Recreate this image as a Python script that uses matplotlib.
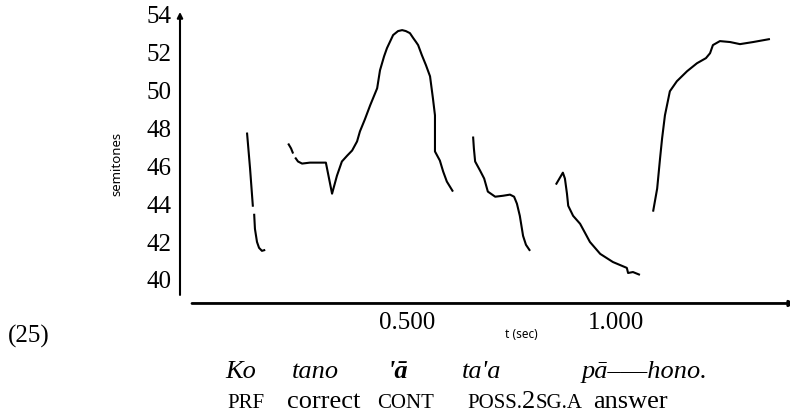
import matplotlib
matplotlib.use('Agg')
import matplotlib.pyplot as plt

SERIF = ['Liberation Serif', 'DejaVu Serif']
SANS = ['Noto Sans', 'DejaVu Sans']

# ---------------- data (time in s, pitch in semitones) ----------------
seg1a_t = [0.1172, 0.1245, 0.1313]
seg1a_st = [47.79, 45.89, 43.87]
seg1b_t = [0.1343, 0.1362, 0.1411, 0.1460, 0.1529, 0.1608]
seg1b_st = [43.50, 42.70, 42.01, 41.70, 41.54, 41.59]

seg2a_t = [0.2157, 0.2226, 0.2275]
seg2a_st = [47.21, 46.95, 46.68]
seg2b_t = [0.2324, 0.2392, 0.2490, 0.2677, 0.3059, 0.3207, 0.3324, 0.3442,
           0.3569, 0.3687, 0.3805, 0.3874, 0.3991, 0.4119, 0.4236, 0.4286,
           0.4354, 0.4452, 0.4521, 0.4668, 0.4786, 0.4884, 0.4972, 0.5070,
           0.5149, 0.5217, 0.5266, 0.5355, 0.5453, 0.5551, 0.5620, 0.5669,
           0.5669, 0.5669, 0.5786, 0.5865, 0.5953, 0.6100]
seg2b_st = [46.47, 46.26, 46.15, 46.20, 46.20, 44.56, 45.51, 46.26,
            46.57, 46.84, 47.32, 47.85, 48.48, 49.23, 49.86, 50.13,
            51.08, 51.82, 52.25, 52.94, 53.15, 53.20, 53.15, 53.04,
            52.78, 52.57, 52.41, 51.88, 51.35, 50.76, 49.60, 48.70,
            47.74, 46.79, 46.31, 45.73, 45.20, 44.67]

seg3_t = [0.6581, 0.6600, 0.6630, 0.6748, 0.6846, 0.6934, 0.7110, 0.7297,
          0.7464, 0.7562, 0.7630, 0.7699, 0.7777, 0.7846, 0.7944]
seg3_st = [47.58, 46.95, 46.26, 45.78, 45.36, 44.67, 44.40, 44.45,
           44.51, 44.40, 44.03, 43.39, 42.33, 41.86, 41.54]

seg4_t = [0.8562, 0.8729, 0.8778, 0.8827, 0.8857, 0.8974, 0.9141, 0.9259,
          0.9376, 0.9622, 0.9926, 1.0259, 1.0289, 1.0406, 1.0573]
seg4_st = [45.04, 45.67, 45.36, 44.56, 43.92, 43.39, 42.97, 42.49,
           42.01, 41.38, 40.95, 40.64, 40.37, 40.42, 40.27]

seg5_t = [1.0887, 1.0985, 1.1054, 1.1103, 1.1171, 1.1289, 1.1456, 1.1701,
          1.1937, 1.2152, 1.2250, 1.2319, 1.2486, 1.2731, 1.2966, 1.3280,
          1.3683]
seg5_st = [43.61, 44.83, 46.42, 47.48, 48.70, 49.97, 50.50, 51.03,
           51.45, 51.72, 51.98, 52.41, 52.62, 52.57, 52.46, 52.57,
           52.73]

y_ticks = [40, 42, 44, 46, 48, 50, 52, 54]
x_ticks = [0.5, 1.0]
x_tick_labels = ['0.500', '1.000']
y_label = 'semitones'
x_label = 't (sec)'
example_no = '(25)'
words = ['Ko', 'tano', "'ā", "ta'a", 'pā–––hono.']

# ---------------- figure ----------------
W, H = 790, 417
fig = plt.figure(figsize=(W / 100, H / 100), dpi=100)
ax = fig.add_axes([180 / W, (H - 310) / H, 610 / W, 300 / H])
ax.set_xlim(-0.0431, 1.4163)
ax.set_ylim(38.415, 54.263)
for s in ax.spines.values():
    s.set_visible(False)
ax.patch.set_alpha(0)

segments = [(seg1a_t, seg1a_st), (seg1b_t, seg1b_st), (seg2a_t, seg2a_st),
            (seg2b_t, seg2b_st), (seg3_t, seg3_st), (seg4_t, seg4_st),
            (seg5_t, seg5_st)]
for t, st in segments:
    ax.plot(t, st, color='black', lw=1.5, solid_joinstyle='round',
            solid_capstyle='butt')

ax.set_yticks(y_ticks)
ax.set_yticklabels([str(v) for v in y_ticks], fontsize=18, family=SERIF)
ax.set_xticks(x_ticks)
ax.set_xticklabels(x_tick_labels, fontsize=18, family=SERIF)
ax.tick_params(axis='both', length=0)
ax.tick_params(axis='y', pad=6)
ax.tick_params(axis='x', pad=1.5)

# axis lines with arrows
ax.annotate('', xy=(0, 54.16), xytext=(0, 39.21),
            xycoords=('axes fraction', 'data'),
            textcoords=('axes fraction', 'data'),
            arrowprops=dict(arrowstyle='-|>', lw=1.5, color='black',
                            mutation_scale=8, shrinkA=0, shrinkB=0),
            annotation_clip=False)
ax.annotate('', xy=(1.4290, 38.76), xytext=(-0.0144, 38.76),
            xycoords='data', textcoords='data',
            arrowprops=dict(arrowstyle='-|>', lw=2.0, color='black',
                            mutation_scale=8, shrinkA=0, shrinkB=0),
            annotation_clip=False)

def fx(px):
    return px / W

def fy(py):
    return 1 - py / H

fig.text(fx(117), fy(164), y_label, rotation=90, ha='center', va='center',
         fontsize=9.5, family=SANS)
fig.text(fx(521), fy(334), x_label, ha='center', va='center',
         fontsize=8.5, family=SANS)
fig.text(fx(8), fy(343), example_no, ha='left', va='baseline',
         fontsize=18, family=SERIF)

# gloss line 1
word_x = [225, 292, 387, 462, 582]
for w, x in zip(words, word_x):
    weight = 'bold' if w == "'ā" else 'normal'
    fig.text(fx(x), fy(378), w, ha='left', va='baseline', fontsize=19,
             family=SERIF, style='italic', weight=weight)

# gloss line 2 (small caps emulated)
SC = 15
NORM = 19
gloss_parts = [
    (227, [('PRF', SC)]),
    (287, [('correct', NORM)]),
    (377, [('CONT', SC)]),
    (467, [('POSS.', SC), ('2', NORM), ('SG.A', SC)]),
    (593, [('answer', NORM)]),
]
renderer = fig.canvas.get_renderer()
for x0, parts in gloss_parts:
    x = x0
    for txt, size in parts:
        t = fig.text(fx(x), fy(408), txt, ha='left', va='baseline',
                     fontsize=size, family=SERIF)
        bb = t.get_window_extent(renderer=renderer)
        x += bb.width

fig.savefig('out.png', dpi=100)
